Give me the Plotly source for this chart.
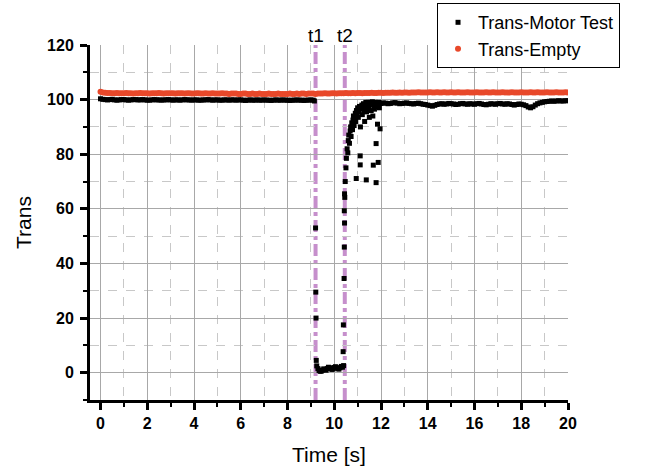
import numpy as np
import plotly.graph_objects as go

# ---------------- data ----------------
# steady part before t1 (sampled every 0.1 s, 0.0 .. 9.1 s)
t_motor_a = np.round(np.arange(0, 92) * 0.1, 2)
y_motor_a = [100.3, 100.1, 100.0, 99.9, 100.0, 100.1, 99.9, 99.8, 99.9, 100.0,
             100.0, 99.9, 99.8, 99.9, 100.0, 100.0, 99.9, 99.9, 100.0, 99.9,
             99.8, 99.8, 99.9, 100.0, 99.9, 99.9, 99.8, 99.9, 99.9, 100.0,
             99.9, 99.8, 99.9, 99.9, 99.8, 99.9, 100.0, 99.9, 99.9, 99.8,
             99.9, 99.9, 99.8, 99.8, 99.9, 99.9, 100.0, 99.9, 99.8, 99.9,
             99.9, 99.8, 99.8, 99.9, 99.9, 99.8, 99.9, 99.9, 99.8, 99.9,
             99.9, 99.8, 99.7, 99.8, 99.9, 99.8, 99.8, 99.9, 99.8, 99.8,
             99.9, 99.8, 99.8, 99.7, 99.8, 99.9, 99.8, 99.8, 99.9, 99.8,
             99.8, 99.7, 99.8, 99.8, 99.9, 99.8, 99.8, 99.7, 99.8, 99.8,
             99.9, 99.8]

# transition part (t1 .. ~12 s)
t_motor_b = [9.15, 9.20, 9.21, 9.22, 9.23,
             9.25, 9.30, 9.35, 9.40, 9.45, 9.50, 9.55, 9.60, 9.65, 9.70, 9.75, 9.80,
             9.85, 9.90, 9.95, 10.00, 10.05, 10.10, 10.15, 10.20, 10.25, 10.30, 10.35, 10.40,
             10.38, 10.39, 10.42, 10.43, 10.44, 10.43, 10.45, 10.44, 10.47, 10.50,
             10.52, 10.55, 10.58, 10.60, 10.62, 10.65, 10.68, 10.70, 10.72, 10.75,
             10.78, 10.80, 10.82, 10.85, 10.88, 10.90, 10.92, 10.94, 10.95, 10.98,
             11.00, 11.03, 11.05, 11.08, 11.11, 11.11, 11.12, 11.15, 11.18, 11.20,
             11.22, 11.25, 11.28, 11.30, 11.33, 11.35, 11.37, 11.38, 11.40, 11.43,
             11.45, 11.48, 11.50, 11.52, 11.55, 11.58, 11.60, 11.63, 11.67, 11.65,
             11.70, 11.72, 11.75, 11.79, 11.79, 11.80, 11.82, 11.85, 11.88, 11.88,
             11.90, 11.93, 11.96, 11.97]
y_motor_b = [99.5, 53.0, 29.5, 20.0, 4.5,
             2.5, 1.5, 0.8, 0.5, 0.6, 1.0, 1.4, 1.2, 0.9, 1.5, 2.0, 1.8,
             1.5, 1.2, 1.4, 1.9, 2.2, 1.8, 1.5, 1.3, 1.8, 2.3, 2.0, 2.6,
             7.7, 17.5, 34.5, 46.0, 54.8, 59.3, 64.2, 65.5, 70.0, 75.0,
             78.5, 82.0, 80.5, 85.0, 87.0, 84.0, 88.5, 90.0, 86.5, 91.5,
             89.0, 92.5, 94.0, 90.5, 93.0, 95.0, 92.0, 71.1, 96.0, 94.0,
             97.0, 93.5, 95.5, 97.5, 79.4, 76.1, 90.0, 96.5, 98.0, 94.5,
             97.0, 98.5, 96.0, 92.0, 97.5, 99.0, 70.6, 95.5, 98.0, 96.5,
             99.0, 97.0, 93.5, 98.5, 99.0, 96.0, 98.0, 99.2, 76.0, 94.0,
             98.5, 96.5, 99.0, 83.9, 69.6, 97.5, 98.8, 91.0, 77.0, 98.5,
             99.0, 97.0, 89.3, 98.6]

# steady part after recovery (sampled every 0.1 s, 12.0 .. 20.0 s)
t_motor_c = np.round(12 + np.arange(0, 81) * 0.1, 2)
y_motor_c = [98.6, 98.8, 98.7, 98.5, 98.6, 98.8, 98.9, 98.7, 98.5, 98.6,
             98.7, 98.8, 98.6, 98.5, 98.4, 98.6, 98.7, 98.5, 98.3, 98.2,
             98.0, 97.8, 97.6, 97.9, 98.2, 98.4, 98.5, 98.3, 98.4, 98.6,
             98.5, 98.4, 98.2, 98.3, 98.5, 98.6, 98.4, 98.3, 98.5, 98.4,
             98.3, 98.5, 98.6, 98.4, 98.2, 98.1, 98.3, 98.5, 98.4, 98.3,
             98.5, 98.6, 98.4, 98.3, 98.5, 98.4, 98.2, 98.0, 98.2, 98.4,
             98.3, 98.1, 97.8, 97.3, 97.0, 97.4, 98.0, 98.5, 98.8, 99.0,
             99.2, 99.3, 99.4, 99.5, 99.4, 99.5, 99.6, 99.5, 99.5, 99.6,
             99.6]

# empty reference (sampled every 0.1 s, 0 .. 20 s)
t_empty = np.round(np.arange(0, 201) * 0.1, 2)
y_empty = [102.9, 102.6, 102.5, 102.4, 102.4, 102.3, 102.3, 102.4, 102.3, 102.3,
           102.3, 102.4, 102.3, 102.3, 102.2, 102.3, 102.3, 102.4, 102.3, 102.3,
           102.3, 102.2, 102.3, 102.3, 102.3, 102.4, 102.3, 102.2, 102.3, 102.3,
           102.3, 102.3, 102.2, 102.3, 102.3, 102.3, 102.2, 102.3, 102.3, 102.2,
           102.2, 102.3, 102.3, 102.2, 102.2, 102.3, 102.2, 102.2, 102.3, 102.2,
           102.2, 102.2, 102.3, 102.2, 102.2, 102.1, 102.2, 102.2, 102.2, 102.1,
           102.1, 102.2, 102.2, 102.1, 102.1, 102.2, 102.1, 102.1, 102.2, 102.1,
           102.1, 102.1, 102.2, 102.1, 102.1, 102.1, 102.2, 102.1, 102.1, 102.1,
           102.1, 102.2, 102.1, 102.1, 102.2, 102.1, 102.2, 102.2, 102.1, 102.2,
           102.2, 102.2, 102.1, 102.2, 102.2, 102.2, 102.3, 102.2, 102.2, 102.3,
           102.3, 102.2, 102.3, 102.3, 102.3, 102.4, 102.3, 102.3, 102.4, 102.3,
           102.4, 102.4, 102.3, 102.4, 102.4, 102.4, 102.5, 102.4, 102.4, 102.5,
           102.5, 102.4, 102.5, 102.5, 102.5, 102.6, 102.5, 102.5, 102.6, 102.5,
           102.6, 102.6, 102.5, 102.6, 102.6, 102.6, 102.7, 102.6, 102.6, 102.6,
           102.6, 102.7, 102.6, 102.6, 102.7, 102.6, 102.6, 102.7, 102.6, 102.6,
           102.7, 102.6, 102.6, 102.7, 102.6, 102.6, 102.6, 102.7, 102.6, 102.6,
           102.6, 102.7, 102.6, 102.6, 102.6, 102.7, 102.6, 102.6, 102.7, 102.6,
           102.6, 102.6, 102.7, 102.6, 102.6, 102.6, 102.7, 102.6, 102.6, 102.6,
           102.7, 102.6, 102.6, 102.6, 102.7, 102.6, 102.6, 102.7, 102.6, 102.6,
           102.6, 102.7, 102.6, 102.6, 102.6, 102.7, 102.6, 102.6, 102.6, 102.7,
           102.6]

event_times = [9.2, 10.45]
event_labels = ["t1", "t2"]

x_ticks = [0, 2, 4, 6, 8, 10, 12, 14, 16, 18, 20]
y_ticks = [0, 20, 40, 60, 80, 100, 120]

# ---------------- figure ----------------
FONT = "Arial, Liberation Sans, sans-serif"
t_motor = list(t_motor_a) + list(t_motor_b) + list(t_motor_c)
y_motor = list(y_motor_a) + list(y_motor_b) + list(y_motor_c)

fig = go.Figure()
fig.add_trace(go.Scatter(
    x=t_empty, y=y_empty, mode="markers", name="Trans-Empty",
    marker=dict(symbol="circle", size=6, color="#e8482a", line=dict(width=0)),
))
fig.add_trace(go.Scatter(
    x=t_motor, y=y_motor, mode="markers", name="Trans-Motor Test",
    marker=dict(symbol="square", size=5, color="black", line=dict(width=0)),
))

for t, lab in zip(event_times, event_labels):
    fig.add_shape(type="line", x0=t, x1=t, xref="x", y0=0, y1=1, yref="paper",
                  line=dict(color="#c68fcc", width=4, dash="dashdot"), layer="between")
    fig.add_annotation(x=t, y=1.0, xref="x", yref="paper", text=lab, showarrow=False,
                       yanchor="bottom", yshift=-3, font=dict(family=FONT, size=19, color="black"))

axis_common = dict(
    showline=True, linecolor="black", linewidth=3, mirror=False,
    ticks="outside", ticklen=7, tickwidth=2.5, tickcolor="black",
    showgrid=True, gridcolor="#a8a8a8", gridwidth=1.2, zeroline=False,
    tickfont=dict(family=FONT, size=16, color="black", weight="bold"),
    automargin=False,
)

fig.update_xaxes(
    range=[-0.45, 20], tickvals=x_ticks, **axis_common,
    minor=dict(dtick=1, ticks="outside", ticklen=4, tickwidth=2, tickcolor="black",
               showgrid=True, gridcolor="#c8c8c8", griddash="dash", gridwidth=1),
    title=dict(text="Time [s]", font=dict(family=FONT, size=21, color="black"), standoff=17),
)
fig.update_yaxes(
    range=[-10, 120], tickvals=y_ticks, **axis_common,
    ticklabelstandoff=3,
    minor=dict(dtick=10, tick0=0, ticks="outside", ticklen=4, tickwidth=2, tickcolor="black",
               showgrid=True, gridcolor="#c8c8c8", griddash="dash", gridwidth=1),
    title=dict(text="Trans", font=dict(family=FONT, size=21, color="black"), standoff=10),
)

fig.update_layout(
    width=663, height=470,
    margin=dict(l=90, r=95, t=45, b=70, autoexpand=False),
    plot_bgcolor="white", paper_bgcolor="white",
    font=dict(family=FONT, color="black"),
    legend=dict(x=0.726, y=1.118, xanchor="left", yanchor="top",
                traceorder="reversed",
                bordercolor="black", borderwidth=1, bgcolor="white",
                font=dict(family=FONT, size=18, color="black"),
                itemsizing="trace", tracegroupgap=0),
    showlegend=True,
)

fig.write_html("out.html")
